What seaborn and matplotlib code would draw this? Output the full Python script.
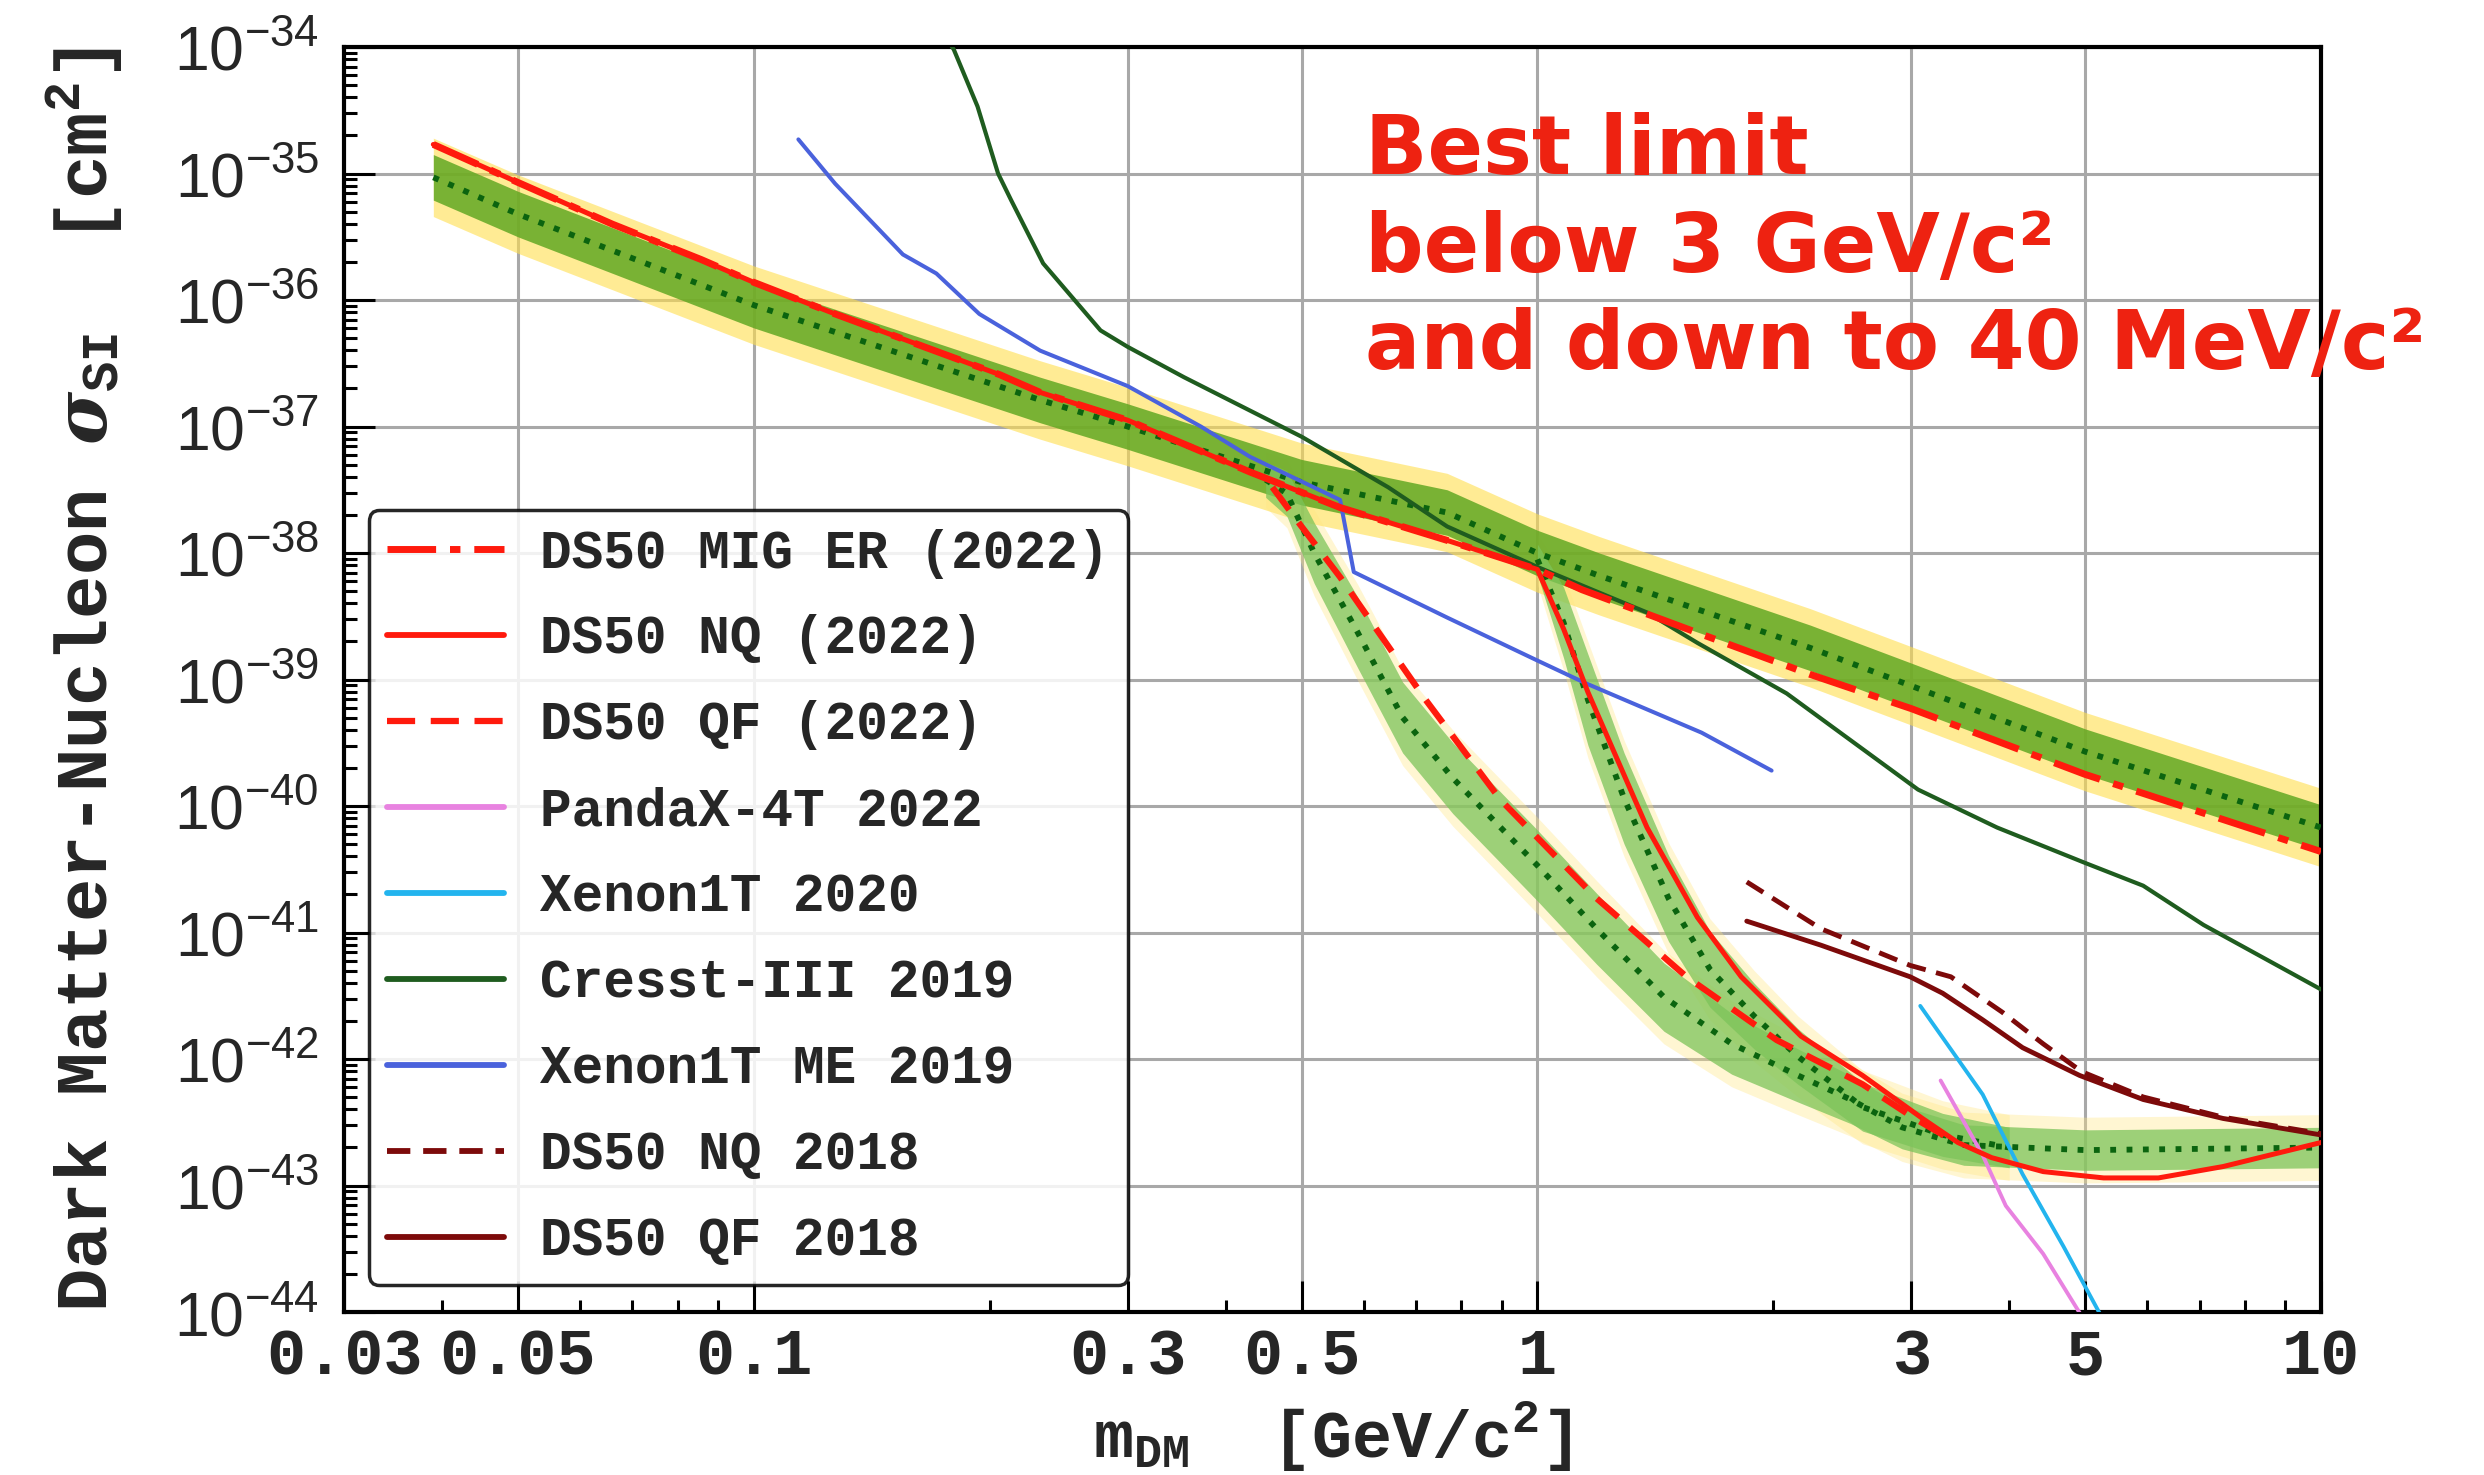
import numpy as np
import matplotlib
matplotlib.use("Agg")
from matplotlib import pyplot as plt
from matplotlib.ticker import LogLocator, FuncFormatter, NullFormatter
import seaborn as sns

# masses in GeV/c^2, cross sections as log10(sigma / cm^2)

# DS50 2022 limits
mig_er_x = [0.039, 0.05, 0.066, 0.0857, 0.1, 0.127, 0.165, 0.206, 0.232, 0.3, 0.43, 0.56, 0.767, 1.0,
            1.14, 1.6, 2.23, 3.0, 5.0, 10.0]
mig_er_y = [-34.77, -35.07, -35.40, -35.68, -35.86, -36.11, -36.37, -36.59, -36.73, -36.95, -37.36, -37.64,
            -37.90, -38.13, -38.29, -38.63, -38.96, -39.23, -39.75, -40.36]

nq_x = [0.039, 0.05, 0.066, 0.0857, 0.1, 0.127, 0.165, 0.206, 0.232, 0.3, 0.43, 0.56, 0.767, 1.0,
        1.08, 1.16, 1.38, 1.6, 1.82, 2.17, 2.6, 3.1, 3.44, 3.8, 4.42, 5.28, 6.2, 7.5, 10.0]
nq_y = [-34.77, -35.07, -35.40, -35.68, -35.86, -36.11, -36.37, -36.59, -36.73, -36.95, -37.36, -37.64,
        -37.90, -38.13, -38.6, -39.1, -40.17, -40.88, -41.35, -41.82, -42.13, -42.47, -42.66, -42.78,
        -42.89, -42.94, -42.94, -42.85, -42.66]

qf_x = [0.459, 0.5, 0.56, 0.673, 0.72, 0.897, 1.0, 1.19, 1.55, 2.02, 2.6, 3.03, 3.4]
qf_y = [-37.48, -37.79, -38.19, -38.90, -39.16, -39.95, -40.25, -40.73, -41.35, -41.85, -42.2, -42.47, -42.65]

# expected sensitivity bands: median and 1 sigma / 2 sigma half widths (decades)
mig_band_x = [0.039, 0.05, 0.1, 0.232, 0.3, 0.5, 0.767, 1.0, 1.2, 2.23, 3.0, 5.0, 10.0]
mig_band_y = [-35.03, -35.32, -36.04, -36.79, -37.0, -37.44, -37.68, -38.0, -38.18, -38.75, -39.05,
              -39.57, -40.17]
mig_band_1s = [0.18] * 13
mig_band_2s = [0.31] * 13

qf_band_x = [0.45, 0.479, 0.519, 0.59, 0.673, 0.78, 1.0, 1.19, 1.45, 1.77, 2.15, 2.51, 2.92, 3.5, 5.0, 10.0]
qf_band_y = [-37.42, -37.53, -38.0, -38.63, -39.30, -39.78, -40.47, -40.97, -41.51, -41.88, -42.13,
             -42.32, -42.54, -42.68, -42.72, -42.70]
qf_band_1s = [0.14, 0.18, 0.24, 0.28, 0.28, 0.28, 0.28, 0.28, 0.27, 0.24, 0.21, 0.19, 0.17, 0.16, 0.16, 0.16]
qf_band_2s = [0.22, 0.27, 0.34, 0.38, 0.38, 0.38, 0.38, 0.38, 0.37, 0.34, 0.31, 0.29, 0.27, 0.26, 0.26, 0.26]

nq_band_x = [1.0, 1.08, 1.16, 1.29, 1.47, 1.66, 1.89, 2.15, 2.6, 3.29, 4.0]
nq_band_y = [-38.05, -38.55, -39.16, -39.94, -40.73, -41.29, -41.66, -41.98, -42.38, -42.60, -42.70]
nq_band_1s = [0.12, 0.28, 0.36, 0.36, 0.34, 0.3, 0.26, 0.22, 0.19, 0.17, 0.16]
nq_band_2s = [0.2, 0.38, 0.46, 0.46, 0.44, 0.4, 0.36, 0.32, 0.29, 0.27, 0.26]

# other experiments
pandax_x = [3.27, 3.70, 3.96, 4.42, 4.98]
pandax_y = [-42.17, -42.76, -43.16, -43.54, -44.06]

xenon20_x = [3.08, 3.70, 4.16, 4.69, 5.27]
xenon20_y = [-41.58, -42.28, -42.91, -43.48, -44.06]

cresst_x = [0.177, 0.18, 0.193, 0.205, 0.213, 0.234, 0.277, 0.3, 0.354, 0.5, 0.645, 0.767, 1.0, 1.38, 1.6,
            2.08, 3.06, 3.86, 5.0, 5.93, 7.08, 10.0]
cresst_y = [-33.95, -34.02, -34.47, -35.0, -35.21, -35.71, -36.24, -36.37, -36.61, -37.08, -37.48, -37.79,
            -38.11, -38.47, -38.71, -39.11, -39.87, -40.17, -40.45, -40.63, -40.94, -41.45]

xenon_me_x = [0.114, 0.127, 0.155, 0.171, 0.194, 0.232, 0.3, 0.372, 0.43, 0.56, 0.583, 0.767, 1.0, 1.153,
              1.62, 1.99]
xenon_me_y = [-34.73, -35.08, -35.64, -35.79, -36.11, -36.40, -36.68, -37.0, -37.24, -37.58, -38.15, -38.51,
              -38.85, -39.03, -39.42, -39.72]

nq18_x = [1.85, 2.3, 2.99, 3.37, 3.92, 4.42, 4.95, 5.93, 7.5, 10.0]
nq18_y = [-40.60, -40.97, -41.26, -41.35, -41.63, -41.88, -42.10, -42.30, -42.46, -42.59]

qf18_x = [1.85, 2.3, 2.99, 3.29, 3.70, 4.16, 4.92, 5.93, 7.5, 10.0]
qf18_y = [-40.91, -41.10, -41.35, -41.48, -41.69, -41.91, -42.13, -42.32, -42.47, -42.60]

x_ticks = [0.03, 0.05, 0.1, 0.3, 0.5, 1, 3, 5, 10]
x_tick_labels = ["0.03", "0.05", "0.1", "0.3", "0.5", "1", "3", "5", "10"]

legend_labels = ["DS50 MIG ER (2022)", "DS50 NQ (2022)", "DS50 QF (2022)", "PandaX-4T 2022",
                 "Xenon1T 2020", "Cresst-III 2019", "Xenon1T ME 2019", "DS50 NQ 2018", "DS50 QF 2018"]

RED = "#ff1a0d"
MAROON = "#7d0a0a"
MONO = "Liberation Mono"


def draw(ax, x, logy, **kw):
    sns.lineplot(x=x, y=10.0 ** np.asarray(logy), ax=ax, estimator=None, sort=False, errorbar=None, **kw)
    return ax.lines[-1]


def band(ax, x, logy, half, color, alpha, z):
    y = np.asarray(logy)
    h = np.asarray(half)
    ax.fill_between(x, 10.0 ** (y - h), 10.0 ** (y + h), color=color, alpha=alpha, lw=0, zorder=z)


sns.set_theme(style="white")
plt.rcParams["mathtext.fontset"] = "custom"
plt.rcParams["mathtext.rm"] = "Liberation Sans"
plt.rcParams["mathtext.tt"] = "Liberation Mono:bold"
plt.rcParams["mathtext.it"] = "DejaVu Serif:italic:bold"

fig = plt.figure(figsize=(24.84, 14.75), dpi=100)
ax = fig.add_axes([0.1385, 0.1105, 0.7959, 0.8576])
ax.set_xscale("log")
ax.set_yscale("log")

# bands: yellow (2 sigma) then green (1 sigma)
band(ax, mig_band_x, mig_band_y, mig_band_2s, "#ffdf4d", 0.6, 1)
band(ax, qf_band_x, qf_band_y, qf_band_2s, "#ffe680", 0.35, 1)
band(ax, nq_band_x, nq_band_y, nq_band_2s, "#ffe680", 0.35, 1)
band(ax, mig_band_x, mig_band_y, mig_band_1s, "#62a823", 0.85, 2)
band(ax, qf_band_x, qf_band_y, qf_band_1s, "#7cc45a", 0.75, 2)
band(ax, nq_band_x, nq_band_y, nq_band_1s, "#7cc45a", 0.75, 2)

dots = dict(color="#0b640f", lw=4.2, linestyle=(0, (1, 1.8)), zorder=3)
draw(ax, mig_band_x, mig_band_y, **dots)
draw(ax, qf_band_x, qf_band_y, **dots)
draw(ax, nq_band_x, nq_band_y, **dots)

l_pandax = draw(ax, pandax_x, pandax_y, color="#e882e0", lw=2.8, zorder=4)
l_xe20 = draw(ax, xenon20_x, xenon20_y, color="#23b4ee", lw=2.8, zorder=4)
l_cresst = draw(ax, cresst_x, cresst_y, color="#1f5c1f", lw=3.0, zorder=4)
l_xeme = draw(ax, xenon_me_x, xenon_me_y, color="#4a62dc", lw=2.9, zorder=4)
l_qf18 = draw(ax, qf18_x, qf18_y, color=MAROON, lw=3.5, zorder=5)
l_nq18 = draw(ax, nq18_x, nq18_y, color=MAROON, lw=3.5, linestyle=(0, (4, 2.2)), zorder=5)

l_mig = draw(ax, mig_er_x, mig_er_y, color=RED, lw=5, linestyle=(0, (7, 2, 1.5, 2)), zorder=6)
l_qf = draw(ax, qf_x, qf_y, color=RED, lw=4.5, linestyle=(0, (4.5, 2.5)), zorder=6)
l_nq = draw(ax, nq_x, nq_y, color=RED, lw=3.6, zorder=7)

ax.set_xlim(0.03, 10)
ax.set_ylim(1e-44, 1e-34)

ax.set_xticks(x_ticks, labels=x_tick_labels, fontfamily=MONO, fontweight="bold", fontsize=47)
ax.xaxis.set_minor_locator(LogLocator(base=10, subs=np.arange(2, 10), numticks=100))
ax.xaxis.set_minor_formatter(NullFormatter())
ax.yaxis.set_major_locator(LogLocator(base=10, numticks=30))
ax.yaxis.set_minor_locator(LogLocator(base=10, subs=np.arange(2, 10), numticks=200))
ax.yaxis.set_minor_formatter(NullFormatter())
ax.yaxis.set_major_formatter(FuncFormatter(lambda v, p: r"$\mathrm{10}^{\mathrm{%d}}$" % round(np.log10(v))))

ax.tick_params(which="both", direction="in", bottom=True, left=True, top=False, right=False,
               width=2.2, color="black")
ax.tick_params(which="major", length=22)
ax.tick_params(which="minor", length=9)
ax.tick_params(axis="x", which="major", pad=11)
ax.tick_params(axis="y", which="major", pad=18, labelsize=45)

ax.grid(True, which="major", color="#a8a8a8", lw=2.2)
ax.set_axisbelow(True)
for s in ax.spines.values():
    s.set_color("black")
    s.set_linewidth(3)

ax.set_ylabel(r"Dark Matter-Nucleon $\sigma_{\mathtt{SI}}$  [cm$^{\mathtt{2}}$]",
              fontfamily=MONO, fontweight="bold", fontsize=52)
ax.yaxis.set_label_coords(-0.111, 0.5)
ax.set_xlabel(r"m$_{\mathtt{DM}}$  [GeV/c$^{\mathtt{2}}$]", fontfamily=MONO, fontweight="bold", fontsize=48)
ax.xaxis.set_label_coords(0.5, -0.069)

handles = [l_mig, l_nq, l_qf, l_pandax, l_xe20, l_cresst, l_xeme, l_nq18, l_qf18]
leg = ax.legend(handles, legend_labels, loc="upper left", bbox_to_anchor=(0.0126, 0.634), borderaxespad=0,
                prop=dict(family=MONO, weight="bold", size=38), handlelength=2.2, handletextpad=0.7,
                labelspacing=0.68, borderpad=0.35, frameon=True, fancybox=True, framealpha=0.85,
                edgecolor="black", facecolor="white")
leg.get_frame().set_linewidth(2.5)
leg.set_zorder(10)
for h in leg.legend_handles:
    h.set_linewidth(max(h.get_linewidth(), 4.2))

fig.text(0.5497, 0.924, "Best limit\nbelow 3 GeV/c²\nand down to 40 MeV/c²", color="#ee2211",
         fontsize=59, fontweight="bold", family="DejaVu Sans", va="top", ha="left", linespacing=1.3)

fig.savefig("out.png", dpi=100)
